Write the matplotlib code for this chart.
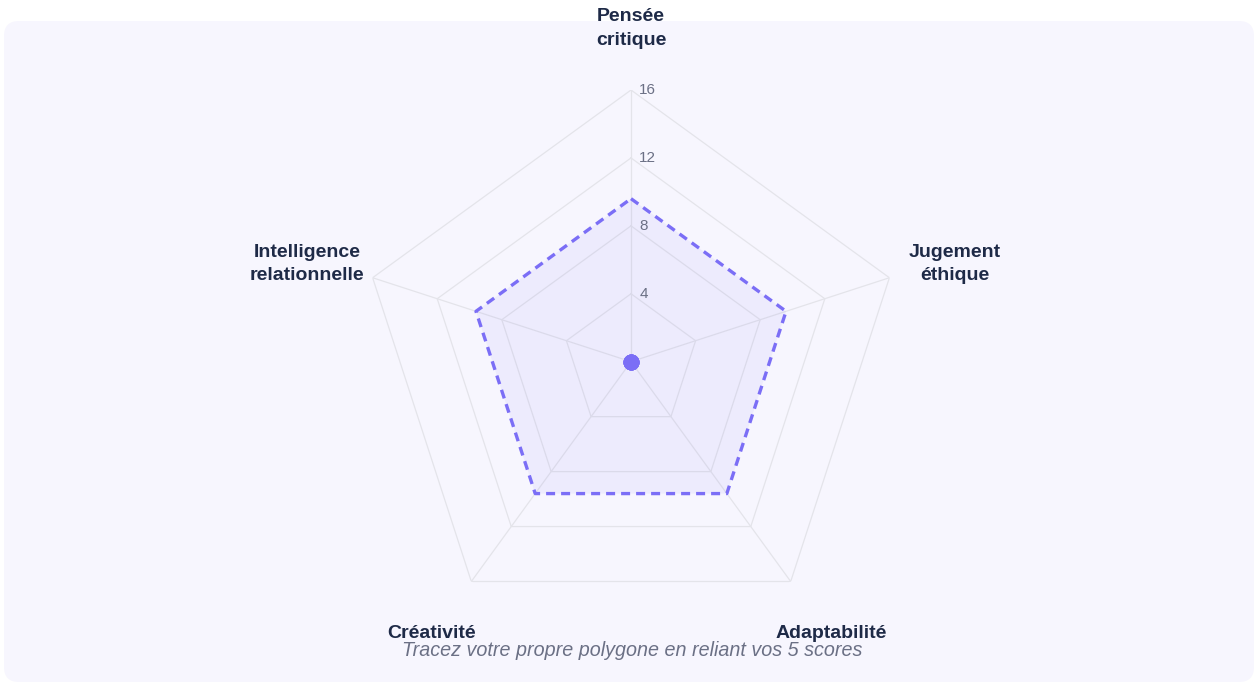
import numpy as np
import matplotlib.pyplot as plt
from matplotlib.patches import FancyBboxPatch

plt.rcParams["font.family"] = ["Liberation Sans", "DejaVu Sans"]

# data
categories = ["Pensée\ncritique", "Jugement\néthique", "Adaptabilité",
              "Créativité", "Intelligence\nrelationnelle"]
reference_scores = [9.6, 9.6, 9.6, 9.6, 9.6]
user_scores = [0, 0, 0, 0, 0]
radial_ticks = [4, 8, 12, 16]
r_max = 16

# colours
purple = "#7B6EF6"
grid_col = "#E4E4EA"
label_col = "#1E2A47"
tick_col = "#6B7085"
card_col = "#F7F6FE"

fig = plt.figure(figsize=(12.58, 6.86), dpi=100)
fig.patch.set_facecolor("white")

# card background
card = FancyBboxPatch((0.04, 0.04), 12.50, 6.61,
                      boxstyle="round,pad=0,rounding_size=0.15",
                      transform=fig.dpi_scale_trans,
                      facecolor=card_col, edgecolor="none", zorder=-1)
fig.patches.append(card)

# polar axes placed so the centre sits at the same spot as the reference
ax = fig.add_axes([0.2856, 0.0767, 0.4320, 0.7921], projection="polar")
ax.set_theta_offset(np.pi / 2)
ax.set_theta_direction(-1)
ax.set_ylim(0, r_max)
ax.set_xticks([])
ax.set_yticks([])
ax.grid(False)
ax.spines["polar"].set_visible(False)
ax.patch.set_alpha(0)

n = len(categories)
angles = np.linspace(0, 2 * np.pi, n, endpoint=False)
closed = np.concatenate([angles, angles[:1]])

# pentagon grid
for t in radial_ticks:
    ax.plot(closed, [t] * (n + 1), color=grid_col, lw=0.9, zorder=1)
for a in angles:
    ax.plot([a, a], [0, r_max], color=grid_col, lw=0.9, zorder=1)

# radial tick labels
for t in radial_ticks:
    ax.annotate(str(t), xy=(0, t), xytext=(6, 0), textcoords="offset points",
                ha="left", va="center", fontsize=11, color=tick_col,
                annotation_clip=False, zorder=5)

# reference polygon
ref = reference_scores + reference_scores[:1]
ax.fill(closed, ref, color=purple, alpha=0.08, lw=0, zorder=2)
ax.plot(closed, ref, color=purple, lw=2.4, linestyle=(0, (2.7, 1.8)), zorder=3)

# user scores
ax.plot(angles, user_scores, "o", color=purple, markersize=11.5,
        markeredgewidth=0, zorder=4)

# category labels (small pixel nudges to sit like the reference)
nudges = [(0, -3), (4, -6), (3, 0), (-2, 0), (-4, -6)]
for a, lab, (dx, dy) in zip(angles, categories, nudges):
    ax.annotate(lab, xy=(a, 19.8), xytext=(dx, dy), textcoords="offset pixels",
                ha="center", va="center", fontsize=14, fontweight="bold",
                color=label_col, linespacing=1.5, annotation_clip=False)

fig.text(632 / 1258, 1 - 650 / 686,
         "Tracez votre propre polygone en reliant vos 5 scores",
         ha="center", va="center", fontsize=14.2, style="italic",
         color=tick_col)

plt.savefig("out.png", dpi=100, facecolor=fig.get_facecolor())
